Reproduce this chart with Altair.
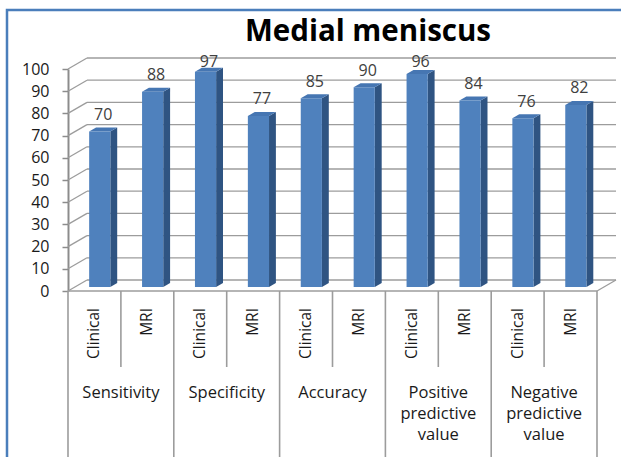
import altair as alt
import pandas as pd

# ---- data -------------------------------------------------------------
title_text = "Medial meniscus"
measures = ["Sensitivity", "Specificity", "Accuracy",
            "Positive predictive value", "Negative predictive value"]
methods = ["Clinical", "MRI"]
clinical = [70, 97, 85, 96, 76]
mri = [88, 77, 90, 84, 82]
y_ticks = list(range(0, 101, 10))

# ---- 3-D column geometry (x in slot units, y in percent) ---------------
FACE_L, FACE_R = 0.40, 0.80   # front face inside each slot
DEPTH_X = 0.13                # depth of side / top faces along x
DEPTH_Y = 1.8                 # depth of side / top faces along y
LIFT = -4                     # columns stand slightly behind the front edge (px)
WALL_DX, WALL_DY = 19, -11    # back wall offset (px)

FONT = "Open Sans"
GRID = "#9c9c9c"
FRONT, SIDE, TOP = "#4F81BD", "#2F5482", "#4676B2"

rows = []
for g, m in enumerate(measures):
    for k, (meth, vals) in enumerate(zip(methods, (clinical, mri))):
        rows.append({"slot": 2 * g + k, "measure": m, "method": meth, "value": vals[g]})
bars = pd.DataFrame(rows)
n_slots = len(bars)
bars["x0"] = bars["slot"] + FACE_L
bars["x1"] = bars["slot"] + FACE_R
bars["mid"] = bars["slot"] + 0.5
bars["lx"] = bars["slot"] + (FACE_L + FACE_R + DEPTH_X) / 2
bars["ly"] = (bars["value"] + 9.3).clip(upper=103.2)

side_rows, top_rows = [], []
for r in bars.itertuples():
    side_rows.append({"slot": r.slot, "sx": r.x1, "st": r.value, "sb": 0.0})
    side_rows.append({"slot": r.slot, "sx": r.x1 + DEPTH_X,
                      "st": r.value + DEPTH_Y, "sb": DEPTH_Y})
    top_rows.append({"slot": r.slot, "ty": r.value, "tl": r.x0, "tr": r.x1})
    top_rows.append({"slot": r.slot, "ty": r.value + DEPTH_Y,
                     "tl": r.x0 + DEPTH_X, "tr": r.x1 + DEPTH_X})
side = pd.DataFrame(side_rows)
top = pd.DataFrame(top_rows)

grid = pd.DataFrame({"v": y_ticks, "xa": 0, "xb": n_slots})
groups = pd.DataFrame({"measure": measures,
                       "gx": [2 * g + 1 for g in range(len(measures))]})
major = pd.DataFrame({"d": list(range(0, n_slots + 1, 2))})
minor = pd.DataFrame({"d": list(range(1, n_slots, 2))})
floor = pd.DataFrame({"xa": [0], "xb": [n_slots], "v": [0]})
corner = pd.DataFrame({"xa": [n_slots], "v": [0]})

# ---- scales / axes ------------------------------------------------------
xs = alt.Scale(domain=[0, n_slots], nice=False, zero=False)
ys = alt.Scale(domain=[0, 100], nice=False)
y_axis = alt.Axis(values=y_ticks, title=None, grid=False, orient="left",
                  tickSize=6, tickWidth=1.5, tickColor="#8c8c8c",
                  domainColor="#8c8c8c", domainWidth=2,
                  labelFont=FONT, labelFontSize=16, labelColor="#1a1a1a",
                  labelPadding=13)


def X(f):
    return alt.X(f, type="quantitative", scale=xs, axis=None)


def Y(f):
    return alt.Y(f, type="quantitative", scale=ys, axis=y_axis)


# ---- layers -----------------------------------------------------------
frame = alt.Chart(floor).mark_rect(filled=False, stroke="#4A7EBB", strokeWidth=2.5).encode(
    x=alt.value(-61), y=alt.value(-59), x2=alt.value(700), y2=alt.value(500))

back_grid = alt.Chart(grid).mark_rule(
    color=GRID, strokeWidth=1.3,
    xOffset=WALL_DX, x2Offset=WALL_DX, yOffset=WALL_DY, y2Offset=WALL_DY
).encode(x=X("xa"), x2="xb", y=Y("v"))

wall_diag = alt.Chart(grid).mark_rule(
    color=GRID, strokeWidth=1.3, x2Offset=WALL_DX, y2Offset=WALL_DY
).encode(x=X("xa"), x2="xa", y=Y("v"), y2="v")

front_floor = alt.Chart(floor).mark_rule(color=GRID, strokeWidth=1.6).encode(
    x=X("xa"), x2="xb", y=Y("v"))

right_diag = alt.Chart(corner).mark_rule(
    color=GRID, strokeWidth=1.3, x2Offset=WALL_DX, y2Offset=WALL_DY
).encode(x=X("xa"), x2="xa", y=Y("v"), y2="v")

side_face = alt.Chart(side).mark_area(
    color=SIDE, yOffset=LIFT, y2Offset=LIFT, orient="vertical"
).encode(x=alt.X("sx", type="quantitative", scale=xs, axis=None, stack=None),
         y=alt.Y("st", type="quantitative", scale=ys, axis=y_axis, stack=None),
         y2="sb", detail="slot:N")

top_face = alt.Chart(top).mark_area(
    color=TOP, yOffset=LIFT, orient="horizontal"
).encode(x=alt.X("tl", type="quantitative", scale=xs, axis=None, stack=None),
         x2="tr",
         y=alt.Y("ty", type="quantitative", scale=ys, axis=y_axis, stack=None),
         detail="slot:N")

front_face = alt.Chart(bars).mark_rect(
    color=FRONT, yOffset=LIFT, y2Offset=LIFT
).encode(x=X("x0"), x2="x1", y=Y("value"), y2=alt.Y2(datum=0))

value_labels = alt.Chart(bars).mark_text(
    font=FONT, fontSize=16, color="#404040", baseline="middle"
).encode(x=X("lx"), y=Y("ly"), text="value:Q")

major_div = alt.Chart(major).mark_rule(color=GRID, strokeWidth=1.6).encode(
    x=X("d"), y=alt.value(222), y2=alt.value(400))
minor_div = alt.Chart(minor).mark_rule(color=GRID, strokeWidth=1.6).encode(
    x=X("d"), y=alt.value(222), y2=alt.value(298))

method_labels = alt.Chart(bars).mark_text(
    font=FONT, fontSize=15.5, color="#1a1a1a", angle=270,
    align="right", baseline="middle"
).encode(x=X("mid"), y=alt.value(239), text="method:N")

group_labels = alt.Chart(groups).mark_text(
    font=FONT, fontSize=16.5, color="#1a1a1a", baseline="top",
    lineBreak=" ", lineHeight=21
).encode(x=X("gx"), y=alt.value(316), text="measure:N")

title = alt.Chart(pd.DataFrame({"t": [title_text]})).mark_text(
    font=FONT, fontSize=29.5, fontWeight="bold", color="#000000",
    baseline="alphabetic"
).encode(x=alt.value(300), y=alt.value(-28), text="t:N")

chart = alt.layer(
    frame, back_grid, wall_diag, front_floor, right_diag,
    side_face, top_face, front_face, value_labels,
    major_div, minor_div, method_labels, group_labels, title
).properties(
    width=529, height=222,
    autosize=alt.AutoSizeParams(type="none"),
    padding={"left": 68, "top": 69, "right": 24, "bottom": 166},
    background="white",
).configure_view(stroke=None)

chart.save("out.html", embed_options={"renderer": "svg", "actions": False})
